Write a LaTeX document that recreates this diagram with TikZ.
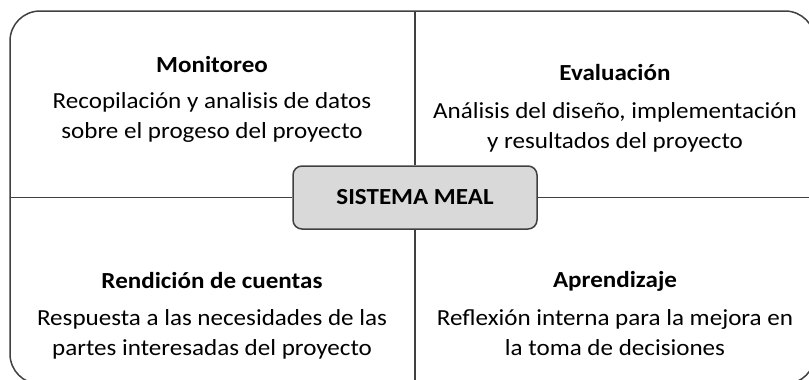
\documentclass[tikz,border=0pt]{standalone}
\usepackage{fontspec}
\setmainfont{Carlito}[FakeStretch=1.09]
\definecolor{linegray}{HTML}{404040}
\definecolor{coregray}{HTML}{D9D9D9}

\begin{document}
\begin{tikzpicture}[x=1pt,y=-1pt]
\tikzstyle{frame}=[draw=linegray,line width=1.5pt,rounded corners=30pt]
\tikzstyle{divider}=[draw=linegray,line width=1.5pt]
\tikzstyle{core}=[rectangle,draw=linegray,fill=coregray,line width=1.5pt,rounded corners=9pt,minimum width=244pt,minimum height=63pt,font=\bfseries\fontsize{23}{28}\selectfont]
\tikzstyle{title}=[anchor=base,inner sep=0pt,font=\bfseries\fontsize{23}{28}\selectfont]
\tikzstyle{body}=[anchor=base,inner sep=0pt,align=center,font=\fontsize{23}{29.5}\selectfont]
\useasboundingbox (0,0) rectangle (809,380);
\clip (0,0) rectangle (809,380);
\draw[frame] (10,11) rectangle (815,384);
\coordinate (top) at (415,11);
\coordinate (bottom) at (415,384);
\coordinate (left) at (10,197.5);
\coordinate (right) at (815,197.5);
\node [core] (meal) at (415,197.5) {SISTEMA MEAL};
\draw[divider] (top) -- (meal.north);
\draw[divider] (meal.south) -- (bottom);
\draw[divider] (left) -- (meal.west);
\draw[divider] (meal.east) -- (right);
% cuadrantes (base = ultima linea)
\node [title] (mon) at (212,72) {Monitoreo};
\node [body] (montxt) at (212,138) {Recopilación y analisis de datos\\sobre el progeso del proyecto};
\node [title] (eva) at (615,80) {Evaluación};
\node [body] (evatxt) at (615,148) {Análisis del diseño, implementación\\y resultados del proyecto};
\node [title] (ren) at (212,288) {Rendición de cuentas};
\node [body] (rentxt) at (212,355) {Respuesta a las necesidades de las\\partes interesadas del proyecto};
\node [title] (apr) at (615,287) {Aprendizaje};
\node [body] (aprtxt) at (615,355) {Reflexión interna para la mejora en\\la toma de decisiones};
\end{tikzpicture}
\end{document}
